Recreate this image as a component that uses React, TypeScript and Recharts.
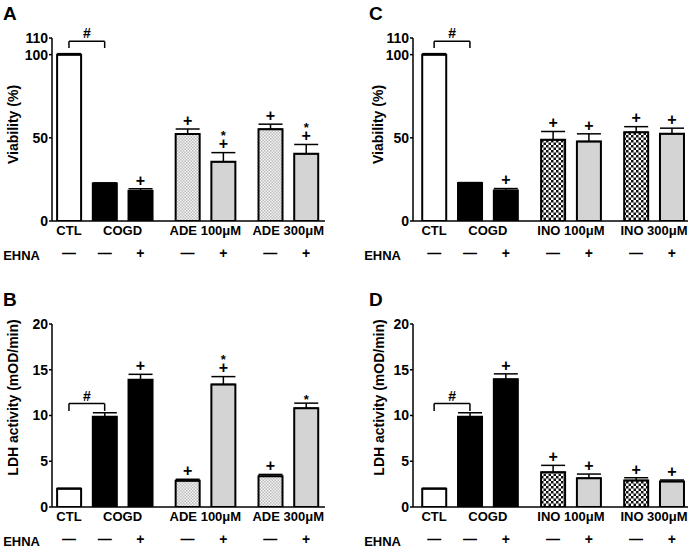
import React from 'react'
import { BarChart, Bar, XAxis, YAxis, ErrorBar, Cell, LabelList, ReferenceLine, ReferenceDot } from 'recharts'

const FONT = '"Liberation Sans", Arial, sans-serif'

// one entry per bar, left to right
const barGroupsADE = ['CTL', 'COGD', 'COGD', 'ADE 100μM', 'ADE 100μM', 'ADE 300μM', 'ADE 300μM']
const barGroupsINO = ['CTL', 'COGD', 'COGD', 'INO 100μM', 'INO 100μM', 'INO 300μM', 'INO 300μM']
const ehnaSigns = ['—', '—', '+', '—', '+', '—', '+']

const viabilityTicks = [0, 50, 100, 110]
const ldhTicks = [0, 5, 10, 15, 20]

// A: viability, adenosine
const viabilityADE = [100, 22.6, 18.2, 52.3, 35.6, 55.2, 40.4]
const viabilityADEErr = [0.6, 0.3, 1.2, 3.0, 5.5, 3.0, 5.6]
const viabilityADEMarks = ['', '', '+', '+', '*+', '+', '*+']

// B: LDH, adenosine
const ldhADE = [2.0, 9.85, 13.9, 2.88, 13.4, 3.36, 10.8]
const ldhADEErr = [0.05, 0.45, 0.6, 0.15, 0.85, 0.2, 0.55]
const ldhADEMarks = ['', '', '+', '+', '*+', '+', '*']

// C: viability, inosine
const viabilityINO = [100, 22.8, 18.3, 48.8, 47.8, 53.3, 52.4]
const viabilityINOErr = [0.6, 0.3, 1.2, 5.0, 4.6, 3.4, 3.4]
const viabilityINOMarks = ['', '', '+', '+', '+', '+', '+']

// D: LDH, inosine
const ldhINO = [2.0, 9.85, 13.95, 3.8, 3.15, 2.9, 2.8]
const ldhINOErr = [0.05, 0.45, 0.6, 0.75, 0.45, 0.3, 0.15]
const ldhINOMarks = ['', '', '+', '+', '+', '+', '+']

// CTL vs COGD bracket: [top, foot]
const viabilityBracket = [108, 104]
const ldhBracket = [11.3, 10.5]

// extra space between the drug groups, in bar steps
const GROUP_GAP = 0.32

function barPositions(groups: string[]) {
  let gi = -1
  let prev = ''
  return groups.map((g, i) => {
    if (g !== prev) {
      gi++
      prev = g
    }
    return i + (gi >= 2 ? (gi - 1) * GROUP_GAP : 0)
  })
}

const nearest = (list: number[], v: number) => {
  let best = 0
  list.forEach((x, i) => { if (Math.abs(x - v) < Math.abs(list[best] - v)) best = i })
  return best
}

const tickStyle = { fontFamily: FONT, fontWeight: 'bold', fontSize: 13, fill: '#000' }
const bigStyle = { ...tickStyle, fontSize: 14 }

const makeMarkRenderer = (rows: any[]) => (props: any) => {
  const { x, y, width, height, index } = props
  const row = rows[index]
  if (!row || !row.mark) return null
  const pxPerUnit = Number(height) / row.value
  const top = Number(y) - row.err[1] * pxPerUnit
  const cx = Number(x) + Number(width) / 2
  const out: React.ReactNode[] = []
  if (row.mark.includes('+')) {
    const c = top - 8.5
    out.push(
      <text key="p" x={cx} y={c + 0.33 * 16} textAnchor="middle" fontFamily={FONT} fontWeight="bold" fontSize={16} fill="#000">+</text>
    )
    if (row.mark.includes('*')) {
      const s = c - 11.5
      out.push(
        <text key="s" x={cx} y={s + 0.57 * 13} textAnchor="middle" fontFamily={FONT} fontWeight="bold" fontSize={13} fill="#000">*</text>
      )
    }
  } else if (row.mark.includes('*')) {
    const s = top - 7
    out.push(
      <text key="s" x={cx} y={s + 0.57 * 13} textAnchor="middle" fontFamily={FONT} fontWeight="bold" fontSize={13} fill="#000">*</text>
    )
  }
  return <g>{out}</g>
}

interface PanelProps {
  letter: string
  left: number
  top: number
  width: number
  rightMargin: number
  groups: string[]
  values: number[]
  errs: number[]
  marks: string[]
  yDomain: [number, number]
  yTicks: number[]
  yLabel: string
  labelX: number
  labelDy: number
  xDomain: [number, number]
  pattern: 'dots' | 'checker'
  bracket: number[]
}

const Panel = (p: PanelProps) => {
  const xs = barPositions(p.groups)
  const rows = p.values.map((v, i) => ({ x: xs[i], value: v, err: [0, p.errs[i]], mark: p.marks[i] }))
  const names: string[] = []
  p.groups.forEach((g) => { if (!names.includes(g)) names.push(g) })
  const centers = names.map((n) => {
    const idx = xs.filter((_, i) => p.groups[i] === n)
    return idx.reduce((a, b) => a + b, 0) / idx.length
  })
  const patId = `pat-${p.letter}`
  const fillFor = (i: number) => {
    const gi = names.indexOf(p.groups[i])
    if (gi === 0) return '#ffffff'
    if (gi === 1) return '#000000'
    return ehnaSigns[i] === '+' ? '#d4d4d4' : `url(#${patId})`
  }

  return (
    <div style={{ position: 'absolute', left: p.left, top: p.top, width: p.width, height: 265 }}>
      <div style={{ position: 'absolute', left: p.letter === 'A' || p.letter === 'B' ? 3 : 8, top: 5, fontFamily: FONT, fontWeight: 'bold', fontSize: 19, lineHeight: '18px' }}>
        {p.letter}
      </div>
      <BarChart width={p.width} height={265} data={rows} margin={{ top: 38, right: p.rightMargin, left: 0, bottom: 0 }}>
        <defs>
          {p.pattern === 'dots' ? (
            <pattern id={patId} width="3" height="3" patternUnits="userSpaceOnUse">
              <rect width="3" height="3" fill="#f4f4f4" />
              <rect width="1.5" height="1.5" fill="#bdbdbd" />
              <rect x="1.5" y="1.5" width="1.5" height="1.5" fill="#bdbdbd" />
            </pattern>
          ) : (
            <pattern id={patId} width="5" height="5" patternUnits="userSpaceOnUse">
              <rect width="5" height="5" fill="#ffffff" />
              <rect width="2.5" height="2.5" fill="#111111" />
              <rect x="2.5" y="2.5" width="2.5" height="2.5" fill="#111111" />
            </pattern>
          )}
        </defs>
        <XAxis
          xAxisId="a"
          type="number"
          dataKey="x"
          domain={p.xDomain}
          allowDataOverflow
          ticks={centers}
          interval={0}
          tickFormatter={(v: number) => names[nearest(centers, v)]}
          tick={tickStyle}
          tickLine={false}
          tickSize={0}
          tickMargin={5}
          axisLine={{ stroke: '#000', strokeWidth: 1.5 }}
          height={24}
        />
        <XAxis
          xAxisId="z"
          type="number"
          dataKey="x"
          domain={p.xDomain}
          allowDataOverflow
          ticks={xs}
          interval={0}
          tickFormatter={(v: number) => ehnaSigns[nearest(xs, v)]}
          tick={bigStyle}
          tickLine={false}
          tickSize={0}
          tickMargin={3}
          axisLine={false}
          height={20}
          label={{ value: 'EHNA', position: 'left', offset: 12, style: { ...tickStyle, textAnchor: 'end' } }}
        />
        <YAxis
          type="number"
          domain={p.yDomain}
          allowDataOverflow
          ticks={p.yTicks}
          interval={0}
          width={52}
          tick={bigStyle}
          tickSize={3}
          tickMargin={1}
          tickLine={{ stroke: '#000', strokeWidth: 1.5 }}
          axisLine={{ stroke: '#000', strokeWidth: 1.5 }}
          label={{
            value: p.yLabel,
            angle: -90,
            position: 'insideLeft',
            offset: p.labelX,
            dy: p.labelDy,
            style: { ...bigStyle, textAnchor: 'middle' },
          }}
        />
        <Bar dataKey="value" xAxisId="a" barSize={24} stroke="#000" strokeWidth={2} isAnimationActive={false}>
          {rows.map((_, i) => (
            <Cell key={i} fill={fillFor(i)} />
          ))}
          <ErrorBar dataKey="err" direction="y" width={12} stroke="#000" strokeWidth={1.5} />
          <LabelList dataKey="mark" content={makeMarkRenderer(rows)} />
        </Bar>
        <ReferenceLine xAxisId="a" segment={[{ x: xs[0], y: p.bracket[0] }, { x: xs[1], y: p.bracket[0] }]} stroke="#000" strokeWidth={1.5} />
        <ReferenceLine xAxisId="a" segment={[{ x: xs[0], y: p.bracket[0] }, { x: xs[0], y: p.bracket[1] }]} stroke="#000" strokeWidth={1.5} />
        <ReferenceLine xAxisId="a" segment={[{ x: xs[1], y: p.bracket[0] }, { x: xs[1], y: p.bracket[1] }]} stroke="#000" strokeWidth={1.5} />
        <ReferenceDot
          xAxisId="a"
          x={(xs[0] + xs[1]) / 2}
          y={p.bracket[0]}
          r={0}
          fill="none"
          stroke="none"
          label={{ value: '#', position: 'top', offset: 3, style: bigStyle }}
        />
      </BarChart>
    </div>
  )
}

const App = () => {
  return (
    <div style={{ position: 'absolute', left: 0, top: 0, width: 693, height: 550, overflow: 'hidden', background: '#fff' }}>
      <Panel
        letter="A" left={0} top={0} width={346} rightMargin={21}
        groups={barGroupsADE} values={viabilityADE} errs={viabilityADEErr} marks={viabilityADEMarks}
        yDomain={[0, 110]} yTicks={viabilityTicks} yLabel="Viability (%)" labelX={13} labelDy={-5}
        xDomain={[-0.475, 7.17]} pattern="dots" bracket={viabilityBracket}
      />
      <Panel
        letter="B" left={0} top={286} width={346} rightMargin={21}
        groups={barGroupsADE} values={ldhADE} errs={ldhADEErr} marks={ldhADEMarks}
        yDomain={[0, 20]} yTicks={ldhTicks} yLabel="LDH activity (mOD/min)" labelX={13} labelDy={-18}
        xDomain={[-0.475, 7.17]} pattern="dots" bracket={ldhBracket}
      />
      <Panel
        letter="C" left={361} top={0} width={332} rightMargin={5}
        groups={barGroupsINO} values={viabilityINO} errs={viabilityINOErr} marks={viabilityINOMarks}
        yDomain={[0, 110]} yTicks={viabilityTicks} yLabel="Viability (%)" labelX={17} labelDy={-5}
        xDomain={[-0.59, 7.09]} pattern="checker" bracket={viabilityBracket}
      />
      <Panel
        letter="D" left={361} top={286} width={332} rightMargin={5}
        groups={barGroupsINO} values={ldhINO} errs={ldhINOErr} marks={ldhINOMarks}
        yDomain={[0, 20]} yTicks={ldhTicks} yLabel="LDH activity (mOD/min)" labelX={18} labelDy={-18}
        xDomain={[-0.59, 7.09]} pattern="checker" bracket={ldhBracket}
      />
    </div>
  )
}

export default App
